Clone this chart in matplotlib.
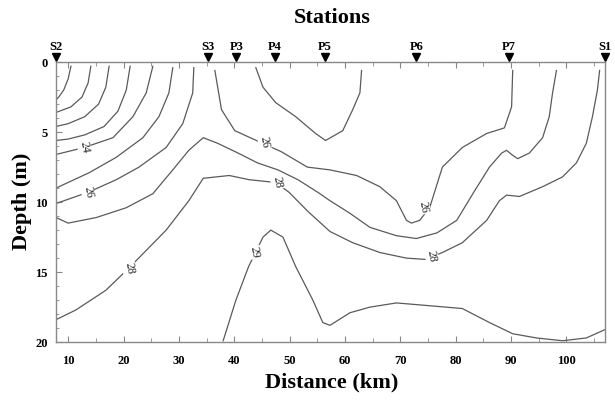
import matplotlib.pyplot as plt

plt.rcParams['font.family'] = ['Liberation Serif', 'DejaVu Serif']

# station positions along the section (km)
stations = ['S2', 'S3', 'P3', 'P4', 'P5', 'P6', 'P7', 'S1']
station_km = [7.8, 35.3, 40.4, 47.3, 56.4, 72.9, 89.6, 106.9]

# contour lines: (km, depth m)
arc1_km = [10.5, 10.0, 9.2, 8.3, 7.8]
arc1_d = [0.3, 1.2, 2.0, 2.5, 2.7]
arc2_km = [14.1, 13.6, 12.5, 10.5, 7.8]
arc2_d = [0.3, 1.5, 2.5, 3.2, 3.6]
arc3_km = [17.4, 16.8, 15.5, 13.0, 10.0, 7.8]
arc3_d = [0.3, 1.8, 3.0, 3.9, 4.4, 4.6]
arc4_km = [21.2, 20.5, 19.0, 16.5, 13.0, 10.0, 7.8]
arc4_d = [0.3, 2.0, 3.5, 4.6, 5.2, 5.5, 5.6]
arc5_km = [25.3, 24.1, 21.7, 18.1, 12.9, 7.8]
arc5_d = [0.3, 2.2, 3.9, 5.4, 6.1, 6.6]
arc6_km = [28.9, 28.2, 26.4, 23.5, 18.7, 13.8, 7.8]
arc6_d = [0.4, 2.2, 3.9, 5.4, 6.8, 7.9, 9.0]
arc7_km = [32.7, 32.5, 30.7, 27.7, 22.8, 18.7, 13.6, 7.8]
arc7_d = [0.4, 2.2, 4.4, 6.1, 7.5, 8.4, 9.3, 10.1]

hook_km = [7.8, 10.0, 15.1, 20.5, 25.3, 28.9, 31.8, 34.4, 37.0, 40.7, 44.2,
           47.9, 51.5, 55.1, 57.3, 60.9, 64.5, 69.3, 72.9, 76.6, 80.2, 83.1,
           86.1, 88.3, 89.2, 90.1, 91.2, 93.3, 95.7, 96.9, 97.5, 98.2]
hook_d = [11.1, 11.5, 11.1, 10.4, 9.4, 7.7, 6.3, 5.4, 5.8, 6.5, 7.2,
          7.7, 8.4, 9.3, 9.9, 10.8, 11.8, 12.4, 12.6, 12.2, 11.3, 9.4,
          7.5, 6.5, 6.3, 6.6, 6.9, 6.5, 5.4, 3.9, 2.2, 0.6]

line26_km = [36.5, 37.7, 40.1, 44.0, 48.5, 53.2, 57.3, 62.1, 66.3, 69.3,
             71.1, 72.0, 73.5, 75.3, 77.6, 81.2, 85.6, 88.8, 90.1, 90.3]
line26_d = [0.6, 3.4, 4.9, 5.6, 6.4, 7.5, 7.7, 8.1, 8.9, 9.9,
            11.3, 11.5, 11.3, 10.4, 7.5, 6.1, 5.1, 4.7, 3.2, 0.6]

p5_km = [43.9, 45.2, 47.5, 51.1, 54.7, 56.5, 59.6, 61.4, 62.7, 63.0]
p5_d = [0.4, 1.8, 2.9, 3.9, 5.1, 5.6, 4.9, 3.4, 2.2, 0.6]

line28_km = [7.8, 11.4, 16.8, 21.0, 27.7, 31.8, 34.4, 39.1, 42.7, 47.5,
             49.9, 53.4, 57.3, 61.4, 66.3, 71.1, 74.8, 75.7, 77.6, 81.2,
             85.6, 87.9, 89.2, 91.5, 95.7, 99.3, 101.8, 103.6, 104.7, 105.6,
             106.0]
line28_d = [18.4, 17.7, 16.3, 14.7, 12.0, 9.9, 8.3, 8.1, 8.4, 8.6,
            9.3, 10.7, 12.1, 12.9, 13.6, 14.0, 14.1, 13.9, 13.6, 12.9,
            11.3, 9.9, 9.5, 9.6, 8.9, 8.2, 7.2, 5.8, 3.9, 2.0,
            0.6]

line29_km = [38.0, 40.3, 42.6, 45.2, 46.6, 48.8, 51.1, 54.2, 56.0, 57.3,
             60.9, 64.5, 69.3, 75.3, 81.2, 86.1, 90.3, 94.6, 99.3, 103.6,
             107.0]
line29_d = [19.9, 17.0, 14.6, 12.5, 12.0, 12.5, 14.6, 17.0, 18.6, 18.8,
            17.9, 17.5, 17.2, 17.4, 17.6, 18.6, 19.4, 19.7, 19.9, 19.7,
            19.1]

lines = [(arc1_km, arc1_d), (arc2_km, arc2_d), (arc3_km, arc3_d),
         (arc4_km, arc4_d), (arc5_km, arc5_d), (arc6_km, arc6_d),
         (arc7_km, arc7_d), (hook_km, hook_d), (line26_km, line26_d),
         (p5_km, p5_d), (line28_km, line28_d), (line29_km, line29_d)]

# contour labels
label_text = ['24', '26', '26', '26', '28', '28', '28', '29']
label_km = [12.9, 13.6, 45.5, 74.2, 21.0, 47.8, 75.7, 43.6]
label_d = [6.1, 9.3, 5.7, 10.4, 14.7, 8.6, 13.9, 13.6]

fig = plt.figure(figsize=(6.15, 4.03), dpi=100)
ax = fig.add_axes([0.091, 0.151, 0.893, 0.695])

for xs, ds in lines:
    ax.plot(xs, ds, color='#5a5a5a', lw=0.9)

for t, x, d in zip(label_text, label_km, label_d):
    ax.text(x, d, t, rotation=-80, ha='center', va='center', fontsize=8.5,
            color='#222222',
            bbox=dict(facecolor='white', edgecolor='none', pad=0.5))

ax.set_xlim(7.8, 107)
ax.set_ylim(20, 0)

ax.set_xticks(range(10, 101, 10))
ax.set_xticks(range(10, 106, 5), minor=True)
ax.set_yticks(range(0, 21, 5))
ax.set_yticks(range(0, 21, 1), minor=True)
ax.tick_params(axis='both', which='both', direction='in', colors='#888888',
               labelcolor='black', labelsize=9)
ax.tick_params(axis='x', which='major', length=4, pad=9, top=True)
ax.tick_params(axis='x', which='minor', length=3, top=True)
ax.tick_params(axis='y', which='major', length=4, pad=6)
ax.tick_params(axis='y', which='minor', length=2)
for lab in ax.get_xticklabels() + ax.get_yticklabels():
    lab.set_fontweight('bold')
for s in ax.spines.values():
    s.set_color('#888888')
    s.set_linewidth(1.0)

# station markers above the top axis
ax.plot(station_km, [-0.35] * len(station_km), linestyle='none', marker='v',
        color='black', markersize=6, clip_on=False)
for name, x in zip(stations, station_km):
    ax.text(x, -1.1, name, ha='center', va='center', fontsize=9,
            fontweight='bold', clip_on=False)

fig.text(0.54, 0.955, 'Stations', ha='center', va='center', fontsize=16,
         fontweight='bold')
fig.text(0.54, 0.052, 'Distance (km)', ha='center', va='center', fontsize=16,
         fontweight='bold')
fig.text(0.036, 0.5, 'Depth (m)', ha='center', va='center', fontsize=16,
         fontweight='bold', rotation=90)

fig.savefig('out.png', dpi=100, facecolor='white')
